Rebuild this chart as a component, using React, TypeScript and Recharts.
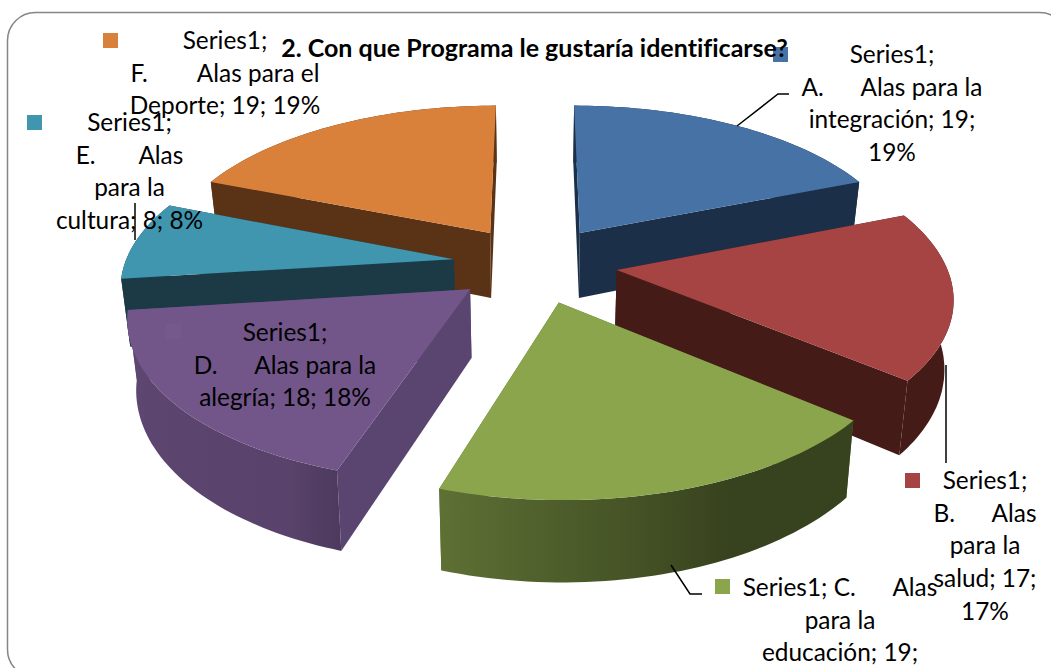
import { PieChart, Pie } from 'recharts'

// chart values, clockwise from 12 o'clock
const categories = ['A', 'B', 'C', 'D', 'E', 'F']
const values = [19, 17, 19, 18, 8, 19]
const title = '2. Con que Programa le gustaría identificarse?'

const labelA = ['Series1;', 'A.      Alas para la', 'integración; 19;', '19%']
const labelB = ['Series1;', 'B.      Alas', 'para la', 'salud; 17;', '17%']
const labelC = ['Series1; C.      Alas', 'para la', 'educación; 19;']
const labelD = ['Series1;', 'D.      Alas para la', 'alegría; 18; 18%']
const labelE = ['Series1;', 'E.       Alas', 'para la', 'cultura; 8; 8%']
const labelF = ['Series1;', 'F.        Alas para el', 'Deporte; 19; 19%']

const topColors = ['#4672a6', '#a54442', '#8aa54c', '#72568a', '#3f96ae', '#d9803b']
const sideColors = ['#1c2f48', '#451b18', '#5f7335', '#5a4470', '#1b3a46', '#5a3316']

// slices that overlap have to be painted in this order
const layers = [['A', 'F'], ['B', 'C', 'E'], ['D']]

const pieData = categories.map((name, i) => ({ name, value: values[i] }))

const EXPLODE = 0.25
const PERSPECTIVE = 0.15
const TILT = 155 / 329
const DEPTH = 67
const FLOOR_SHRINK = 0.978

const hex = (c: string, k: number) => {
  const n = parseInt(c.slice(1), 16)
  const ch = (v: number) => Math.round(v * k)
  return `rgb(${ch((n >> 16) & 255)},${ch((n >> 8) & 255)},${ch(n & 255)})`
}

// darker towards the right of the front, lighter round to the left
const outerShade = (t: number) => {
  if (t < 155) return 0.4
  if (t < 198) return 0.4 + ((t - 155) / 43) * 0.28
  if (t < 206) return 0.68 + ((t - 198) / 8) * 0.1
  return 0.78 + ((t - 206) / 57) * 0.05
}

const makeShape = (visible: string[]) => (props: any) => {
  const { cx, cy, outerRadius: R, startAngle, endAngle, name } = props
  if (!visible.includes(name)) return <g />
  const idx = categories.indexOf(name)
  const t1 = 90 - startAngle
  const t2 = 90 - endAngle
  const mid = (((t1 + t2) / 2) * Math.PI) / 180
  const du = EXPLODE * Math.sin(mid)
  const dv = -EXPLODE * Math.cos(mid)

  const pt = (u: number, v: number, low: boolean) => {
    const s = 1 / (1 - PERSPECTIVE * v)
    return [
      cx + R * u * s * (low ? FLOOR_SHRINK : 1),
      cy + R * TILT * v * s + (low ? DEPTH * s : 0),
    ]
  }
  const rim = (deg: number) => {
    const a = (deg * Math.PI) / 180
    return [du + Math.sin(a), dv - Math.cos(a)]
  }
  const poly = (pts: number[][]) => pts.map((p) => p[0].toFixed(1) + ',' + p[1].toFixed(1)).join(' ')

  const steps = 48
  const angles = Array.from({ length: steps + 1 }, (_, i) => t1 + ((t2 - t1) * i) / steps)
  const rims = angles.map(rim)
  const topArc = rims.map((r) => pt(r[0], r[1], false))
  const lowArc = rims.map((r) => pt(r[0], r[1], true))

  const radial = (r: number[]) => ({
    depth: (dv + r[1]) / 2,
    pts: [pt(du, dv, false), pt(r[0], r[1], false), pt(r[0], r[1], true), pt(du, dv, true)],
    fill: sideColors[idx],
  })

  // outer wall as one band, the two front slices get a left to right gradient
  const shaded = name === 'C' || name === 'D'
  const gradId = 'wall' + name
  const xs = topArc.map((p) => p[0])
  const xMin = Math.min(...xs)
  const xMax = Math.max(...xs)
  const band = {
    depth: rims.reduce((a, r) => a + r[1], 0) / rims.length,
    pts: [...topArc, ...[...lowArc].reverse()],
    fill: shaded ? `url(#${gradId})` : sideColors[idx],
  }
  const faces = [radial(rims[0]), radial(rims[steps]), band].sort((a, b) => a.depth - b.depth)

  return (
    <g>
      {shaded && (
        <defs>
          <linearGradient id={gradId} gradientUnits="userSpaceOnUse" x1={xMin} x2={xMax} y1={0} y2={0}>
            {angles
              .map((a, i) => ({ off: (xs[i] - xMin) / (xMax - xMin), color: hex(topColors[idx], outerShade(a)) }))
              .sort((a, b) => a.off - b.off)
              .map((s, i) => (
                <stop key={i} offset={s.off} stopColor={s.color} />
              ))}
          </linearGradient>
        </defs>
      )}
      {faces.map((f, i) => (
        <polygon key={i} points={poly(f.pts)} fill={f.fill} />
      ))}
      <polygon points={poly([pt(du, dv, false), ...topArc])} fill={topColors[idx]} />
    </g>
  )
}

const DataLabel = ({ lines, x, y }: { lines: string[]; x: number; y: number }) => (
  <text
    textAnchor="middle"
    fontFamily="Lato"
    fontSize={24.4}
    fill="#000"
    style={{ whiteSpace: 'pre', fontVariantLigatures: 'none' }}
  >
    {lines.map((line, i) => (
      <tspan key={i} x={x} y={y + i * 32.7}>
        {line}
      </tspan>
    ))}
  </text>
)

export default function App() {
  return (
    <div style={{ position: 'absolute', left: 0, top: 0, width: 1051, height: 668, overflow: 'hidden', background: '#fff' }}>
      <PieChart width={1051} height={668} margin={{ top: 0, right: 0, bottom: 0, left: 0 }}>
        <rect x={7.5} y={12.5} width={1060} height={665} rx={28} fill="none" stroke="#868686" strokeWidth={1.5} />
        {layers.map((names, i) => (
          <Pie
            key={i}
            data={pieData}
            dataKey="value"
            nameKey="name"
            cx={535}
            cy={264}
            innerRadius={0}
            outerRadius={329}
            startAngle={90}
            endAngle={-270}
            stroke="none"
            shape={makeShape(names)}
            zIndex={i - 3}
            isAnimationActive={false}
          />
        ))}

        <polyline points="737,126 778,94 789,94" fill="none" stroke="#000" strokeWidth={1.5} />
        <line x1={946} y1={365} x2={946} y2={463} stroke="#000" strokeWidth={1.5} />
        <polyline points="671,565 690,594 702,594" fill="none" stroke="#000" strokeWidth={1.5} />
        <line x1={135} y1={203} x2={135} y2={240} stroke="#000" strokeWidth={1.5} />

        <rect x={773} y={47} width={15} height={15} fill={topColors[0]} />
        <rect x={905} y={473} width={15} height={15} fill={topColors[1]} />
        <rect x={715} y={579} width={15} height={15} fill={topColors[2]} />
        <rect x={166} y={324} width={15} height={15} fill="#75598d" />
        <rect x={27} y={115} width={15} height={15} fill={topColors[4]} />
        <rect x={103} y={33} width={15} height={15} fill={topColors[5]} />

        <text
          x={534.5}
          y={57}
          textAnchor="middle"
          fontFamily="Lato"
          fontWeight={700}
          fontSize={25}
          fill="#000"
          style={{ fontVariantLigatures: 'none' }}
        >
          {title}
        </text>
        <DataLabel lines={labelA} x={892} y={63} />
        <DataLabel lines={labelB} x={985} y={489} />
        <DataLabel lines={labelC} x={840} y={596} />
        <DataLabel lines={labelD} x={285} y={341} />
        <DataLabel lines={labelE} x={129.5} y={131} />
        <DataLabel lines={labelF} x={225} y={49} />
      </PieChart>
    </div>
  )
}
